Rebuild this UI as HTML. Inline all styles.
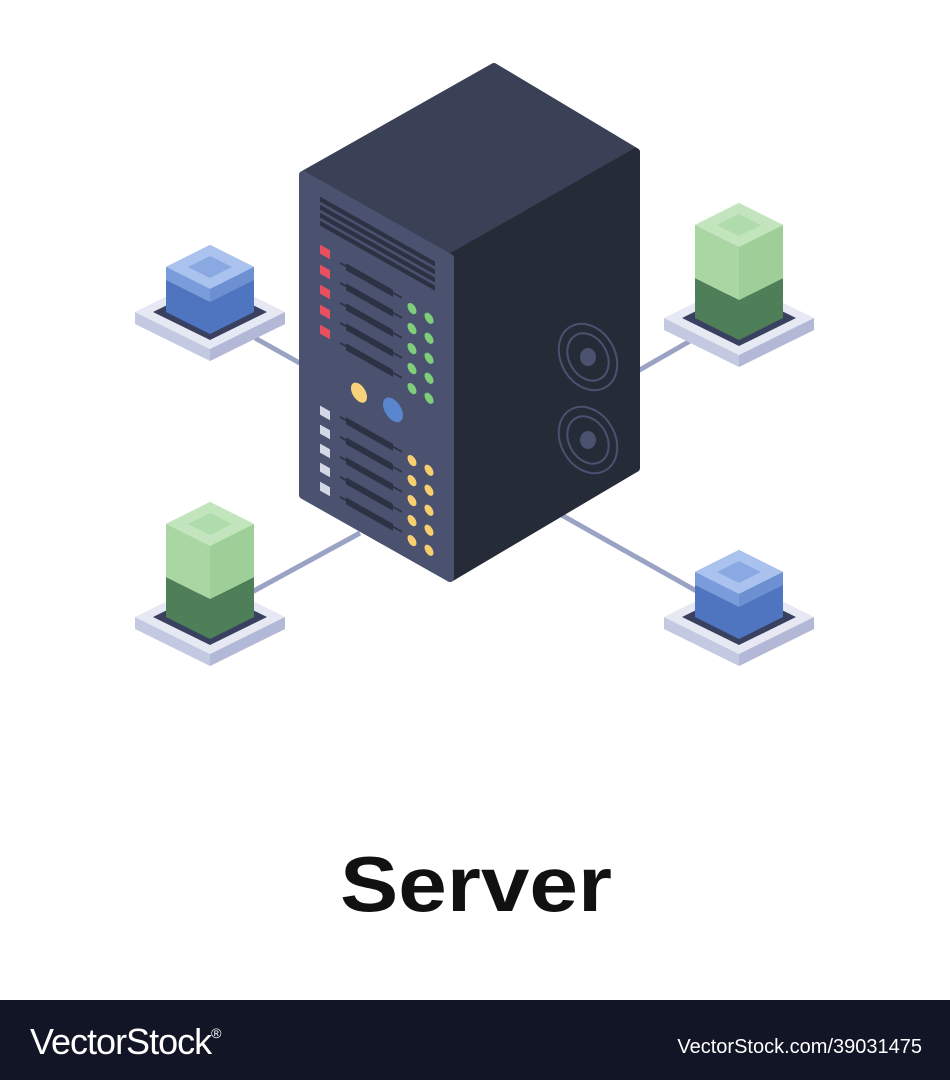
<!DOCTYPE html>
<html><head><meta charset="utf-8"><style>
html,body{margin:0;padding:0;background:#fff;width:950px;height:1080px;overflow:hidden}
</style></head><body>
<svg width="950" height="1080" viewBox="0 0 950 1080" xmlns="http://www.w3.org/2000/svg">
<defs>
<g id="plate">
  <polygon points="-75,0 0,37 75,0 75,12 0,49 -75,12" fill="#c4c9e2"/>
  <polygon points="0,37 75,0 75,12 0,49" fill="#b2b8d6"/>
  <polygon points="-75,0 0,-37 75,0 0,37" fill="#e6e8f3"/>
  <polygon points="-57,0 0,-28 57,0 0,28" fill="#3a4160"/>
</g>
<g id="blue">
  <use href="#plate"/>
  <polygon points="-44,-45 0,-67 44,-45 44,0 0,22 -44,0" fill="#4f74c0"/>
  <polygon points="-44,-45 0,-67 44,-45 0,-23" fill="#a9c3ee"/>
  <polygon points="-22,-45 0,-56 22,-45 0,-34" fill="#8aa9e3"/>
  <polygon points="-44,-45 0,-23 0,-10 -44,-32" fill="#8eaee6" opacity="0.7"/>
  <polygon points="44,-45 0,-23 0,-10 44,-32" fill="#7a9ddc" opacity="0.7"/>
</g>
<g id="green">
  <use href="#plate"/>
  <polygon points="-44,-40 0,-18 44,-40 44,0 0,22 -44,0" fill="#4e7f58"/>
  <polygon points="-44,-93 0,-115 44,-93 44,-40 0,-18 -44,-40" fill="#a9d6a3"/>
  <polygon points="0,-71 44,-93 44,-40 0,-18" fill="#9fcf99"/>
  <polygon points="-44,-93 0,-115 44,-93 0,-71" fill="#c3e5bd"/>
  <polygon points="-22,-93 0,-104 22,-93 0,-82" fill="#b0dbaa"/>
</g>
</defs>
<g stroke="#9aa3c4" stroke-width="5">
<line x1="255" y1="338" x2="305" y2="366"/>
<line x1="636" y1="372" x2="697" y2="337"/>
<line x1="252" y1="592" x2="360" y2="533"/>
<line x1="558" y1="513" x2="700" y2="593"/>
</g>
<use href="#blue" transform="translate(210,312)"/>
<use href="#green" transform="translate(739,318)"/>
<use href="#green" transform="translate(210,617)"/>
<use href="#blue" transform="translate(739,617)"/>
<polygon points="303,175 494,67 636,152 450,258" fill="#3a4055" stroke="#3a4055" stroke-width="8" stroke-linejoin="round"/>
<polygon points="450,258 636,152 636,468 450,578" fill="#262b38" stroke="#262b38" stroke-width="8" stroke-linejoin="round"/>
<polygon points="303,175 450,258 450,578 303,495" fill="#4a5270" stroke="#4a5270" stroke-width="8" stroke-linejoin="round"/>
<g transform="matrix(1,0.565,0,1,303,175)">
  <g fill="#2c3244">
    <rect x="17" y="12" width="115" height="5"/>
    <rect x="17" y="20" width="115" height="5"/>
    <rect x="17" y="28" width="115" height="5"/>
    <rect x="17" y="36" width="115" height="5"/>
  </g>
  <g fill="#e94f5e">
    <rect x="17" y="60" width="10" height="9"/><rect x="17" y="80" width="10" height="9"/>
    <rect x="17" y="100" width="10" height="9"/><rect x="17" y="120" width="10" height="9"/>
    <rect x="17" y="140" width="10" height="9"/>
  </g>
  <g fill="#2c3244">
    <rect x="43" y="64" width="47" height="7"/><rect x="37" y="66" width="62" height="2"/>
    <rect x="43" y="84" width="47" height="7"/><rect x="37" y="86" width="62" height="2"/>
    <rect x="43" y="104" width="47" height="7"/><rect x="37" y="106" width="62" height="2"/>
    <rect x="43" y="124" width="47" height="7"/><rect x="37" y="126" width="62" height="2"/>
    <rect x="43" y="144" width="47" height="7"/><rect x="37" y="146" width="62" height="2"/>
    <rect x="43" y="218" width="47" height="7"/><rect x="37" y="220" width="62" height="2"/>
    <rect x="43" y="238" width="47" height="7"/><rect x="37" y="240" width="62" height="2"/>
    <rect x="43" y="258" width="47" height="7"/><rect x="37" y="260" width="62" height="2"/>
    <rect x="43" y="278" width="47" height="7"/><rect x="37" y="280" width="62" height="2"/>
    <rect x="43" y="298" width="47" height="7"/><rect x="37" y="300" width="62" height="2"/>
  </g>
  <g fill="#7fcf7a">
    <ellipse cx="109" cy="72" rx="4.5" ry="5"/><ellipse cx="109" cy="92" rx="4.5" ry="5"/>
    <ellipse cx="109" cy="112" rx="4.5" ry="5"/><ellipse cx="109" cy="132" rx="4.5" ry="5"/>
    <ellipse cx="109" cy="152" rx="4.5" ry="5"/>
    <ellipse cx="126" cy="72" rx="4.5" ry="5"/><ellipse cx="126" cy="92" rx="4.5" ry="5"/>
    <ellipse cx="126" cy="112" rx="4.5" ry="5"/><ellipse cx="126" cy="132" rx="4.5" ry="5"/>
    <ellipse cx="126" cy="152" rx="4.5" ry="5"/>
  </g>
  <ellipse cx="56" cy="186" rx="8" ry="9" fill="#f7d27a"/>
  <ellipse cx="90" cy="184" rx="10" ry="11" fill="#5a86d0"/>
  <g fill="#d3d8e6">
    <rect x="17" y="221" width="10" height="9"/><rect x="17" y="240" width="10" height="9"/>
    <rect x="17" y="259" width="10" height="9"/><rect x="17" y="278" width="10" height="9"/>
    <rect x="17" y="297" width="10" height="9"/>
  </g>
  <g fill="#f7cf6e">
    <ellipse cx="109" cy="224" rx="4.5" ry="5"/><ellipse cx="109" cy="244" rx="4.5" ry="5"/>
    <ellipse cx="109" cy="264" rx="4.5" ry="5"/><ellipse cx="109" cy="284" rx="4.5" ry="5"/>
    <ellipse cx="109" cy="304" rx="4.5" ry="5"/>
    <ellipse cx="126" cy="224" rx="4.5" ry="5"/><ellipse cx="126" cy="244" rx="4.5" ry="5"/>
    <ellipse cx="126" cy="264" rx="4.5" ry="5"/><ellipse cx="126" cy="284" rx="4.5" ry="5"/>
    <ellipse cx="126" cy="304" rx="4.5" ry="5"/>
  </g>
</g>
<g fill="none" stroke="#4a5270" stroke-width="2">
  <ellipse cx="588" cy="357" rx="27" ry="35" transform="rotate(-30 588 357)"/>
  <ellipse cx="588" cy="357" rx="19" ry="25" transform="rotate(-30 588 357)"/>
  <ellipse cx="588" cy="440" rx="27" ry="35" transform="rotate(-30 588 440)"/>
  <ellipse cx="588" cy="440" rx="19" ry="25" transform="rotate(-30 588 440)"/>
</g>
<g fill="#4a5270">
  <ellipse cx="588" cy="357" rx="8" ry="9"/>
  <ellipse cx="588" cy="440" rx="8" ry="9"/>
</g>
<text x="0" y="911" text-anchor="middle" transform="translate(476,0) scale(1.12,1)" font-family="Liberation Sans, sans-serif" font-weight="bold" font-size="78" fill="#111">Server</text>
<rect x="0" y="1000" width="950" height="80" fill="#111526"/>
<text x="30" y="1054" font-family="Liberation Sans, sans-serif" font-size="36" fill="#fff" letter-spacing="-1">VectorStock<tspan font-size="14" dy="-16">®</tspan></text>
<text x="922" y="1053" text-anchor="end" font-family="Liberation Sans, sans-serif" font-size="20" fill="#fff">VectorStock.com/39031475</text>
</svg>
</body></html>
